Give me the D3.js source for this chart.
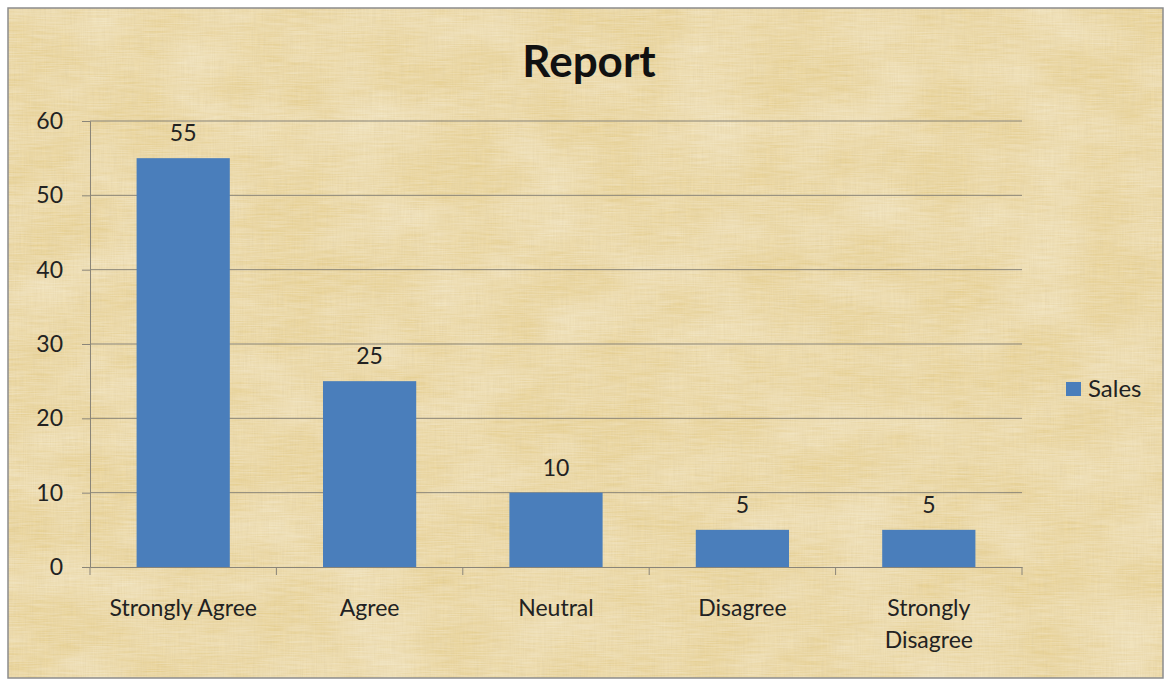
<!DOCTYPE html>
<html><head><meta charset="utf-8">
<script src="https://cdn.jsdelivr.net/npm/d3@7"></script>
<style>html,body{margin:0;padding:0;background:#fff;}svg{display:block;}</style>
</head><body>
<script>
const categories = ["Strongly Agree", "Agree", "Neutral", "Disagree", "Strongly Disagree"];
const salesValues = [55, 25, 10, 5, 5];
const yTicks = [0, 10, 20, 30, 40, 50, 60];
const seriesName = "Sales";
const titleText = "Report";

const W = 1165, H = 680;
const svg = d3.select("body").append("svg").attr("width", W).attr("height", H);
const defs = svg.append("defs");
const f = defs.append("filter").attr("id","papyrus").attr("x",0).attr("y",0).attr("width","100%").attr("height","100%");
f.append("feTurbulence").attr("type","fractalNoise").attr("baseFrequency","0.9 0.035").attr("numOctaves",3).attr("seed",4).attr("result","n1");
f.append("feColorMatrix").attr("in","n1").attr("type","matrix")
 .attr("values","0 0 0 0 0.6  0 0 0 0 0.48  0 0 0 0 0.25  0 0 0 0.35 -0.06").attr("result","c1");
f.append("feTurbulence").attr("type","fractalNoise").attr("baseFrequency","0.035 0.9").attr("numOctaves",3).attr("seed",9).attr("result","n2");
f.append("feColorMatrix").attr("in","n2").attr("type","matrix")
 .attr("values","0 0 0 0 1  0 0 0 0 0.97  0 0 0 0 0.86  0 0 0 0.4 -0.08").attr("result","c2");
f.append("feTurbulence").attr("type","fractalNoise").attr("baseFrequency","0.012 0.02").attr("numOctaves",2).attr("seed",2).attr("result","n3");
f.append("feColorMatrix").attr("in","n3").attr("type","matrix")
 .attr("values","0 0 0 0 1  0 0 0 0 0.96  0 0 0 0 0.82  0 0 0 0.6 -0.2").attr("result","c3");
f.append("feMerge").selectAll("feMergeNode").data(["SourceGraphic","c3","c1","c2"]).enter().append("feMergeNode").attr("in",d=>d);

svg.append("rect").attr("x",8).attr("y",8).attr("width",W-10).attr("height",H-10)
  .attr("fill","#e9d396").attr("filter","url(#papyrus)");
svg.append("rect").attr("x",8).attr("y",8).attr("width",W-10).attr("height",H-10)
  .attr("fill","none").attr("stroke","#8c8c8c").attr("stroke-width",1.5);

const font = "Lato, 'Open Sans', sans-serif";
const fs = 23;
const x = d3.scaleBand().domain(categories).range([90, 1022]).paddingInner(0.5).paddingOuter(0.25);
const xb = d3.scaleBand().domain(categories).range([90, 1022]);
const y = d3.scaleLinear().domain([0, 60]).range([567, 121]);

// gridlines
svg.append("g").selectAll("line").data(yTicks.filter(d=>d>0)).enter().append("line")
  .attr("x1",90).attr("x2",1022).attr("y1",d=>y(d)).attr("y2",d=>y(d))
  .attr("stroke","#8a8578").attr("stroke-width",1);

// y axis
const yAxis = svg.append("g").attr("transform","translate(90,0)")
  .call(d3.axisLeft(y).tickValues(yTicks).tickSize(8).tickPadding(19));
yAxis.select(".domain").attr("stroke","#8a8578");
yAxis.selectAll(".tick line").attr("stroke","#8a8578");
yAxis.selectAll("text").attr("font-family",font).attr("font-size",fs).attr("fill","#222");

// bars
svg.append("g").selectAll("rect").data(salesValues).enter().append("rect")
  .attr("x",(d,i)=>x(categories[i])).attr("width",x.bandwidth())
  .attr("y",d=>y(d)).attr("height",d=>y(0)-y(d)).attr("fill","#4a7ebb");

// x axis
const xAxis = svg.append("g").attr("transform","translate(0,567)")
  .call(d3.axisBottom(xb).tickSize(0).tickFormat(""));
xAxis.select(".domain").attr("stroke","#8a8578");
svg.append("g").selectAll("line").data(d3.range(categories.length+1)).enter().append("line")
  .attr("x1",i=>90+i*xb.step()).attr("x2",i=>90+i*xb.step()).attr("y1",567).attr("y2",575)
  .attr("stroke","#8a8578");

// category labels
const lab = svg.append("g").selectAll("text").data(categories).enter().append("text")
  .attr("font-family",font).attr("font-size",fs).attr("fill","#222")
  .attr("text-anchor","middle");
lab.each(function(d){
  const t = d3.select(this);
  const cx = xb(d) + xb.bandwidth()/2;
  const lines = d === "Strongly Disagree" ? ["Strongly","Disagree"] : [d];
  lines.forEach((l,k)=>{
    t.append("tspan").attr("x", cx).attr("y", 616 + k*32).text(l);
  });
});

// data labels
svg.append("g").selectAll("text").data(salesValues).enter().append("text")
  .attr("x",(d,i)=>x(categories[i])+x.bandwidth()/2).attr("y",d=>y(d)-17)
  .attr("text-anchor","middle").attr("font-family",font).attr("font-size",fs).attr("fill","#222")
  .text(d=>d);

// title
svg.append("text").attr("x",589).attr("y",77).attr("text-anchor","middle")
  .attr("font-family",font).attr("font-weight","bold").attr("font-size",44).attr("fill","#111")
  .text(titleText);

// legend
svg.append("rect").attr("x",1066).attr("y",382).attr("width",15).attr("height",14).attr("fill","#4a7ebb");
svg.append("text").attr("x",1088).attr("y",397).attr("font-family",font).attr("font-size",24).attr("fill","#222").text(seriesName);
</script>
</body></html>
